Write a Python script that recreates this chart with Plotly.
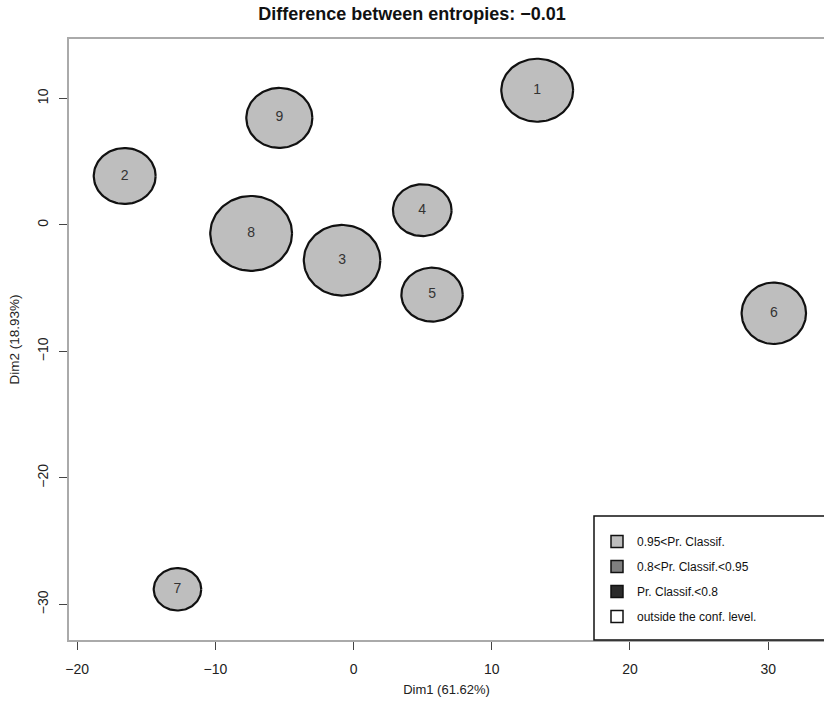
import numpy as np
import plotly.graph_objects as go

# Individuals (ellipse centres and half-axes, data units)
labels = ["1", "2", "3", "4", "5", "6", "7", "8", "9"]
cx = [13.29, -16.56, -0.83, 4.97, 5.68, 30.41, -12.74, -7.41, -5.37]
cy = [10.65, 3.87, -2.79, 1.17, -5.51, -6.98, -28.80, -0.67, 8.46]
rx = [2.60, 2.24, 2.77, 2.12, 2.22, 2.33, 1.72, 2.96, 2.39]
ry = [2.49, 2.21, 2.79, 2.05, 2.13, 2.43, 1.68, 2.96, 2.37]

# Legend categories
legend_names = ["0.95<Pr. Classif.", "0.8<Pr. Classif.<0.95", "Pr. Classif.<0.8", "outside the conf. level."]
legend_colors = ["#bebebe", "#7f7f7f", "#2b2b2b", "#ffffff"]

xticks = [-20, -10, 0, 10, 20, 30]
yticks = [-30, -20, -10, 0, 10]

title_text = "Difference between entropies: \u22120.01"
xlab = "Dim1 (61.62%)"
ylab = "Dim2 (18.93%)"

FONT = "Liberation Sans, Arial, sans-serif"

fig = go.Figure()
t = np.linspace(0, 2 * np.pi, 120)
for i in range(len(labels)):
    fig.add_trace(go.Scatter(
        x=cx[i] + rx[i] * np.cos(t), y=cy[i] + ry[i] * np.sin(t),
        mode="lines", fill="toself", fillcolor=legend_colors[0],
        line=dict(color="#111111", width=2.2), showlegend=False, hoverinfo="skip"))

fig.add_trace(go.Scatter(
    x=cx, y=cy, mode="text", text=labels,
    textfont=dict(family=FONT, size=14, color="#333333"),
    showlegend=False, hoverinfo="skip"))

for i, (nm, col) in enumerate(zip(legend_names, legend_colors)):
    fig.add_trace(go.Scatter(
        x=[None], y=[None], mode="markers", name=nm, legendgroup=f"g{i}",
        marker=dict(symbol="square", size=12, color=col, line=dict(color="#111111", width=1.5))))

fig.update_layout(
    width=824, height=704,
    margin=dict(l=69, r=0, t=39, b=64),
    plot_bgcolor="white", paper_bgcolor="white",
    font=dict(family=FONT, size=14, color="#222222"),
    title=dict(text=title_text, x=0.5, xref="container", xanchor="center",
               y=1 - 14 / 704, yref="container", yanchor="middle",
               font=dict(family=FONT, size=18, color="#111111", weight="bold")),
    xaxis=dict(range=[-20.59, 34.04], tickvals=xticks, ticks="outside", ticklen=8,
               tickcolor="#444444", showline=True, linecolor="#aaaaaa", linewidth=1.5,
               mirror=True, showgrid=False, zeroline=False, ticklabelstandoff=7,
               tickfont=dict(size=14),
               title=dict(text=xlab, standoff=9, font=dict(size=13))),
    yaxis=dict(range=[-32.81, 14.70], tickvals=yticks, ticks="outside", ticklen=8,
               tickcolor="#444444", showline=True, linecolor="#aaaaaa", linewidth=1.5,
               mirror=False, showgrid=False, zeroline=False, tickangle=-90,
               ticklabelstandoff=6, tickfont=dict(size=14),
               title=dict(text=ylab, standoff=12, font=dict(size=13.5))),
    legend=dict(x=(597 - 69) / 755, xanchor="left", y=(640 - 527) / 601, yanchor="top",
                bgcolor="rgba(0,0,0,0)", borderwidth=0, traceorder="grouped",
                tracegroupgap=6, font=dict(family=FONT, size=12, color="#111111")),
    shapes=[dict(type="rect", xref="paper", yref="paper",
                 x0=(594 - 69) / 755, x1=1.05, y0=0, y1=(640 - 516) / 601,
                 line=dict(color="#111111", width=1.5), fillcolor="rgba(0,0,0,0)",
                 layer="above")],
)

fig.write_html("out.html")
